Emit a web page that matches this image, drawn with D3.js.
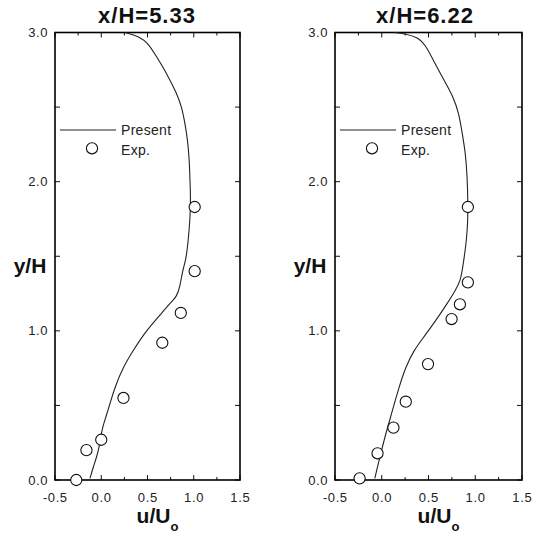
<!DOCTYPE html>
<html><head><meta charset="utf-8">
<script src="https://cdn.jsdelivr.net/npm/d3@7"></script>
<style>
html,body{margin:0;padding:0;background:#fff;}
svg{display:block;font-family:"Liberation Sans",Arial,sans-serif;}
</style></head>
<body><svg id="chart" width="542" height="540"></svg>
<script>
// ---- data ----
const titles = ["x/H=5.33", "x/H=6.22"];
const xTicks = [-0.5, 0.0, 0.5, 1.0, 1.5];
const yTicks = [0.0, 1.0, 2.0, 3.0];
const legendLabels = ["Present", "Exp."];

// computed profile (u/Uo, y/H), x/H = 5.33
const present533 = [
  [-0.122,0.011],[-0.085,0.089],[-0.049,0.156],[-0.021,0.223],[0.005,0.335],[0.051,0.424],
  [0.095,0.514],[0.149,0.625],[0.239,0.759],[0.347,0.871],[0.491,1.005],[0.635,1.106],
  [0.743,1.184],[0.816,1.229],[0.851,1.296],[0.880,1.408],[0.916,1.475],[0.941,1.609],
  [0.959,1.743],[0.967,1.877],[0.959,2.011],[0.952,2.145],[0.934,2.279],[0.905,2.391],
  [0.870,2.502],[0.816,2.592],[0.707,2.726],[0.599,2.837],[0.509,2.927],[0.419,2.971],
  [0.257,3.0]
];
const exp533 = [
  [1.01,1.83],[1.01,1.40],[0.86,1.12],[0.66,0.92],[0.24,0.55],[0.0,0.27],[-0.16,0.20],[-0.27,0.0]
];
// computed profile, x/H = 6.22
const present622 = [
  [-0.074,0.011],[-0.045,0.089],[-0.010,0.179],[0.044,0.313],[0.115,0.469],[0.186,0.625],
  [0.257,0.759],[0.345,0.871],[0.452,0.960],[0.595,1.084],[0.701,1.184],[0.790,1.273],
  [0.843,1.340],[0.861,1.408],[0.878,1.475],[0.907,1.609],[0.921,1.743],[0.921,1.877],
  [0.914,2.033],[0.896,2.190],[0.861,2.324],[0.825,2.458],[0.765,2.569],[0.665,2.681],
  [0.559,2.804],[0.470,2.916],[0.381,2.971],[0.239,2.993],[0.133,3.0]
];
const exp622 = [
  [0.921,1.83],[0.921,1.325],[0.836,1.178],[0.747,1.079],[0.495,0.777],[0.257,0.525],
  [0.125,0.351],[-0.045,0.179],[-0.237,0.011]
];

const panels = [
  {title: titles[0], present: present533, exp: exp533, left: 55, right: 240, titleX: 146.5},
  {title: titles[1], present: present622, exp: exp622, left: 335, right: 522, titleX: 424.5}
];

const svg = d3.select("#chart");
const plotTop = 32.5, plotBottom = 480;
const fmt = v => d3.format(".1f")(v).replace("\u2212", "-");

panels.forEach(p => {
  const x = d3.scaleLinear().domain([-0.5, 1.5]).range([p.left, p.right]);
  const y = d3.scaleLinear().domain([0, 3]).range([plotBottom, plotTop]);
  const g = svg.append("g");

  // inward ticks
  const xMinor = d3.range(-0.5, 1.5001, 0.25);
  xMinor.forEach(v => {
    const major = Math.abs(v*2 - Math.round(v*2)) < 1e-6;
    const len = major ? 5 : 3;
    g.append("line").attr("x1", x(v)).attr("x2", x(v)).attr("y1", plotBottom).attr("y2", plotBottom - len)
      .attr("stroke", "#111").attr("stroke-width", 1);
    g.append("line").attr("x1", x(v)).attr("x2", x(v)).attr("y1", plotTop).attr("y2", plotTop + len)
      .attr("stroke", "#111").attr("stroke-width", 1);
  });
  d3.range(0, 3.0001, 0.5).forEach(v => {
    g.append("line").attr("x1", p.left).attr("x2", p.left + 5).attr("y1", y(v)).attr("y2", y(v))
      .attr("stroke", "#111").attr("stroke-width", 1);
    g.append("line").attr("x1", p.right).attr("x2", p.right - 5).attr("y1", y(v)).attr("y2", y(v))
      .attr("stroke", "#111").attr("stroke-width", 1);
  });

  // frame
  g.append("rect").attr("x", p.left).attr("y", plotTop).attr("width", p.right - p.left).attr("height", plotBottom - plotTop)
    .attr("fill", "none").attr("stroke", "#000").attr("stroke-width", 1.6);

  // tick labels
  xTicks.forEach(v => {
    g.append("text").attr("x", x(v) + 0.3).attr("y", 502).attr("text-anchor", "middle")
      .attr("font-size", 13).attr("letter-spacing", 0.6).attr("fill", "#222").text(fmt(v));
  });
  yTicks.forEach(v => {
    g.append("text").attr("x", p.left - 7).attr("y", y(v) + 4.5).attr("text-anchor", "end")
      .attr("font-size", 13).attr("letter-spacing", 0.6).attr("fill", "#222").text(fmt(v));
  });

  // title
  g.append("text").attr("x", p.titleX + 0.5).attr("y", 22.5).attr("text-anchor", "middle")
    .attr("font-size", 22).attr("letter-spacing", 1).attr("font-weight", "bold").attr("fill", "#111").text(p.title);

  // axis labels
  g.append("text").attr("x", p.left - 25).attr("y", 273).attr("text-anchor", "middle")
    .attr("font-size", 21).attr("font-weight", "bold").attr("fill", "#111").text("y/H");
  const xl = g.append("text").attr("x", (p.left + p.right) / 2 + 10).attr("y", 523).attr("text-anchor", "middle")
    .attr("font-size", 21).attr("font-weight", "bold").attr("fill", "#111");
  xl.append("tspan").text("u/U");
  xl.append("tspan").attr("font-size", 13).attr("dy", 8).text("o");

  // curve
  const line = d3.line().x(d => x(d[0])).y(d => y(d[1])).curve(d3.curveBasis);
  g.append("path").datum(p.present).attr("d", line)
    .attr("fill", "none").attr("stroke", "#222").attr("stroke-width", 1.1);

  // experimental points
  g.selectAll("circle.exp").data(p.exp).enter().append("circle").attr("class", "exp")
    .attr("cx", d => x(d[0])).attr("cy", d => y(d[1])).attr("r", 5.6)
    .attr("fill", "#fff").attr("stroke", "#111").attr("stroke-width", 1.1);

  // legend
  const lx = p.left + 5;
  g.append("line").attr("x1", lx).attr("x2", lx + 56).attr("y1", 130).attr("y2", 130)
    .attr("stroke", "#222").attr("stroke-width", 1.1);
  g.append("text").attr("x", lx + 61).attr("y", 135).attr("font-size", 14).attr("letter-spacing", 0.3).attr("fill", "#222").text(legendLabels[0]);
  g.append("circle").attr("cx", lx + 32).attr("cy", 148.3).attr("r", 5.6)
    .attr("fill", "#fff").attr("stroke", "#111").attr("stroke-width", 1.1);
  g.append("text").attr("x", lx + 61).attr("y", 155).attr("font-size", 14).attr("letter-spacing", 0.3).attr("fill", "#222").text(legendLabels[1]);
});
</script></body></html>
